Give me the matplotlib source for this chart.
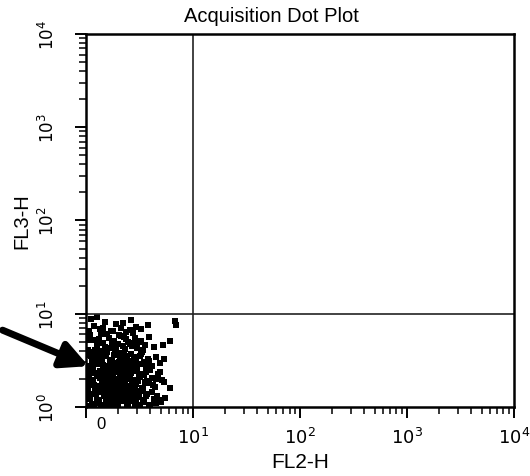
import matplotlib
matplotlib.use('Agg')
import matplotlib.pyplot as plt
from matplotlib.patches import FancyArrowPatch
import matplotlib.transforms as mtransforms

plt.rcParams['font.family'] = ['Liberation Sans', 'DejaVu Sans']

# events in the lower-left gate (FL2-H, FL3-H)
fl2 = [
    # y 1.0 - 1.5
    1.02,1.10,1.18,1.25,1.33,1.41,1.50,1.58,1.67,1.76,1.86,1.97,2.08,2.20,2.33,2.46,2.61,2.77,2.93,3.12,
    3.30,3.52,3.75,4.00,4.31,4.62,5.05,5.50,
    1.05,1.14,1.22,1.29,1.38,1.46,1.55,1.63,1.72,1.82,1.92,2.02,2.14,2.27,2.40,2.54,2.70,2.86,3.03,3.22,
    3.42,3.65,3.90,4.18,4.50,4.90,
    1.08,1.31,1.60,1.95,2.36,2.85,
    # y 1.5 - 2.5
    1.03,1.12,1.20,1.28,1.36,1.45,1.53,1.62,1.71,1.81,
    1.91,2.01,2.12,2.24,2.37,2.50,2.64,2.79,2.95,3.13,
    3.31,3.51,3.73,3.97,4.24,4.55,4.92,5.40,6.05,1.07,
    1.16,1.24,1.32,1.40,1.49,1.58,1.66,1.76,1.86,1.96,
    2.07,2.18,2.30,2.43,2.57,2.72,2.87,3.04,3.22,3.41,
    3.62,3.85,4.10,4.38,4.72,5.15,1.01,1.09,1.26,1.43,
    1.68,1.89,2.10,2.34,2.60,2.90,3.18,3.56,1.14,1.34,
    1.52,1.78,2.05,2.45,2.80,3.35,1.22,1.47,1.74,2.15,
    # y 2.5 - 4
    1.04,1.13,1.21,1.30,1.39,1.48,1.57,1.67,1.77,1.88,
    1.99,2.11,2.23,2.36,2.50,2.65,2.81,2.98,3.17,3.37,
    3.60,3.85,4.15,4.50,4.95,1.08,1.17,1.26,1.35,1.44,
    1.54,1.64,1.74,1.85,1.96,2.08,2.21,2.35,2.49,2.66,
    2.83,3.02,3.25,3.50,3.80,1.02,1.19,1.41,1.61,1.83,
    2.05,2.29,2.58,2.92,3.30,1.11,1.50,1.92,2.40,5.40,
    # y 4 - 6.3
    1.05,1.16,1.27,1.38,1.50,1.63,1.76,1.90,2.05,2.21,
    2.38,2.57,2.78,3.00,3.26,3.55,3.90,4.35,1.10,1.22,
    1.33,1.45,1.57,1.70,1.84,1.98,2.14,2.30,2.48,2.68,
    2.90,3.14,3.42,1.02,1.40,1.80,2.25,2.75,5.30,6.10,
    # y 6.3 - 9
    1.06,1.20,1.35,1.52,1.70,1.90,2.12,2.37,2.65,2.95,
    3.30,3.80,1.12,1.44,1.80,2.20,2.60,6.80,6.90,1.28,
    # dense core
    1.03,1.09,1.15,1.21,1.27,1.34,1.42,1.49,1.57,1.65,
    1.74,1.83,1.93,2.04,2.16,2.28,2.41,2.55,2.70,2.88,
    1.06,1.12,1.18,1.24,1.31,1.38,1.45,1.53,1.61,1.70,
    1.79,1.88,1.99,2.10,2.22,2.35,2.48,2.63,2.79,2.96,
    1.01,1.16,1.33,1.51,1.69,1.87,2.06,2.26,2.50,2.74,
    1.11,1.25,1.40,1.58,1.77,1.97,2.19,2.44,1.04,1.36,
]
fl3 = [
    1.03,1.21,1.08,1.37,1.15,1.46,1.02,1.29,1.11,1.40,1.19,1.06,1.33,1.24,1.44,1.01,1.17,1.35,1.09,1.27,
    1.48,1.13,1.39,1.05,1.22,1.31,1.12,1.26,
    1.34,1.07,1.42,1.18,1.02,1.30,1.23,1.45,1.10,1.36,1.04,1.28,1.16,1.41,1.08,1.25,1.38,1.14,1.47,1.06,
    1.20,1.32,1.03,1.43,1.11,1.19,
    1.38,1.49,1.26,1.12,1.44,1.07,
    1.52,1.88,2.31,1.67,2.05,2.44,1.73,1.95,2.18,1.58,
    2.38,1.81,2.12,1.63,2.27,1.99,1.55,2.41,1.77,2.08,
    1.61,2.22,1.90,2.47,1.70,2.01,2.35,1.84,1.60,2.15,
    1.93,2.29,1.56,2.10,1.79,2.43,1.66,2.20,1.97,1.53,
    2.33,1.86,2.03,1.69,2.25,1.75,2.46,1.91,2.14,1.59,
    2.37,1.82,2.06,1.64,2.28,1.94,2.40,1.71,2.17,1.87,
    2.00,1.57,2.32,1.76,2.11,1.65,2.24,1.85,2.49,1.62,
    2.09,1.78,2.36,1.98,1.54,2.19,1.68,2.42,2.26,1.92,
    2.55,3.10,3.72,2.88,3.45,2.63,3.92,3.20,2.71,3.58,
    2.95,3.81,2.59,3.33,2.80,3.66,3.02,2.52,3.49,3.87,
    2.67,3.15,2.76,3.40,2.98,3.62,2.58,3.27,3.95,2.84,
    3.52,2.69,3.08,3.75,2.61,3.38,2.92,3.56,3.12,2.73,
    3.44,2.86,3.69,3.05,3.25,2.78,3.85,3.18,2.65,3.60,
    3.00,3.78,2.57,3.35,2.90,3.48,3.98,2.70,3.22,3.30,
    4.05,5.20,4.60,6.00,4.35,5.55,4.90,4.15,5.85,4.48,
    5.30,4.75,6.20,4.25,5.05,4.62,5.65,4.40,5.95,4.12,
    5.40,4.85,6.10,4.30,5.15,4.70,5.75,4.20,5.00,4.55,
    5.50,4.95,4.10,5.25,6.25,4.45,5.60,4.80,4.60,5.05,
    6.50,7.40,6.90,8.20,6.60,7.80,7.00,6.40,8.50,7.20,
    6.80,7.60,8.80,7.10,6.45,7.90,6.70,8.30,7.50,9.20,
    2.12,1.35,2.78,1.62,1.18,2.45,1.90,1.05,2.60,1.48,
    2.25,1.12,1.75,2.90,1.40,2.05,1.22,2.68,1.58,1.95,
    1.28,2.35,1.70,2.95,1.10,2.18,1.52,2.72,1.85,1.15,
    2.50,1.42,2.02,1.25,2.85,1.65,1.08,2.30,1.78,1.33,
    1.88,2.62,1.20,2.40,1.02,1.98,2.75,1.45,2.15,1.30,
    2.55,1.60,2.92,1.38,2.08,1.14,1.82,2.65,1.55,2.22,
]

decades = [1, 10, 100, 1000, 10000]
xlabels = ['0', '$10^1$', '$10^2$', '$10^3$', '$10^4$']
ylabels = ['$10^0$', '$10^1$', '$10^2$', '$10^3$', '$10^4$']
gate = 10  # quadrant marker position on both axes

fig = plt.figure(figsize=(5.3, 4.77), dpi=100)
ax = fig.add_axes([0.1623, 0.1447, 0.807, 0.782])

ax.plot(fl2, fl3, 's', color='black', ms=4.0, mew=0)
ax.axvline(gate, color='#222222', lw=1.2)
ax.axhline(gate, color='#222222', lw=1.2)

ax.set_xscale('log')
ax.set_yscale('log')
ax.set_xlim(1, 10000)
ax.set_ylim(1, 10000)
ax.set_xticks(decades)
ax.set_xticklabels(xlabels, fontsize=13)
ax.set_yticks(decades)
ax.set_yticklabels(ylabels, fontsize=12, rotation=90, va='center')
ax.tick_params(which='major', direction='out', length=8, width=1.4)
ax.tick_params(which='minor', direction='out', length=5, width=1.1)
ax.tick_params(axis='x', pad=6)
ax.tick_params(axis='y', pad=13)
for s in ax.spines.values():
    s.set_linewidth(1.8)

# the "0" label sits raised and to the right, as on the scan
lab0 = ax.get_xticklabels()[0]
lab0.set_fontsize(12)
lab0.set_transform(lab0.get_transform() + mtransforms.ScaledTranslation(15/100, 10/100, fig.dpi_scale_trans))

fig.text(0.513, 0.966, 'Acquisition Dot Plot', ha='center', va='center', fontsize=14.5)
fig.text(0.566, 0.031, 'FL2-H', ha='center', va='center', fontsize=15)
fig.text(0.042, 0.537, 'FL3-H', ha='center', va='center', fontsize=14.5, rotation=90)

arr = FancyArrowPatch((0.0, 0.308), (0.172, 0.228), transform=fig.transFigure,
                      arrowstyle='-|>', mutation_scale=40, lw=5, color='black', clip_on=False)
fig.patches.append(arr)

fig.savefig('out.png', dpi=100)
